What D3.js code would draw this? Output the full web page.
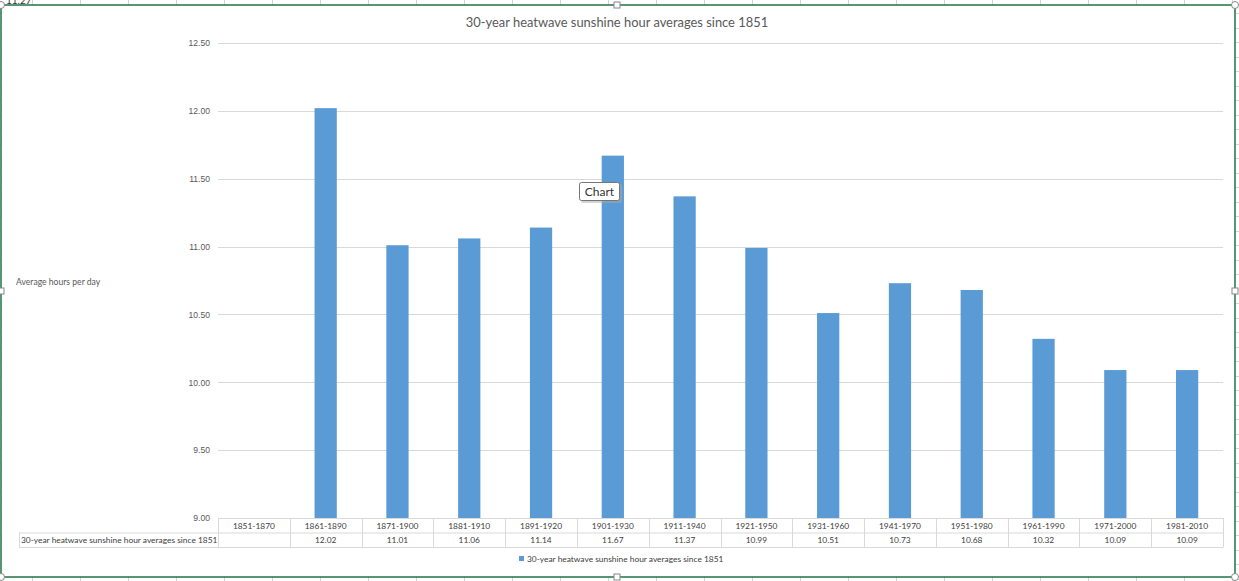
<!DOCTYPE html>
<html lang="en">
<head>
  <meta charset="UTF-8" />
  <title>30-year heatwave sunshine hour averages since 1851</title>
  <script src="https://d3js.org/d3.v7.min.js"></script>
  <style>
    body {
      margin: 0;
      background: white;
      font-family: Lato, "Open Sans", sans-serif;
    }

    svg {
      display: block;
    }

    .tick-label {
      font-size: 8.6px;
      fill: #595959;
    }

    .cell-text {
      font-size: 8.4px;
      fill: #404040;
    }
  </style>
</head>
<body>

  <svg width="1239" height="581"></svg>

  <script>
    // Data
    const periods = ["1851-1870", "1861-1890", "1871-1900", "1881-1910", "1891-1920", "1901-1930",
      "1911-1940", "1921-1950", "1931-1960", "1941-1970", "1951-1980", "1961-1990", "1971-2000", "1981-2010"];
    const averages = [null, 12.02, 11.01, 11.06, 11.14, 11.67, 11.37, 10.99, 10.51, 10.73, 10.68, 10.32, 10.09, 10.09];
    const yTicks = [9.00, 9.50, 10.00, 10.50, 11.00, 11.50, 12.00, 12.50];
    const seriesName = "30-year heatwave sunshine hour averages since 1851";

    const svg = d3.select("svg");
    const width = +svg.attr("width");
    const height = +svg.attr("height");

    const frame = { left: 1, top: 5, right: 1235, bottom: 577 };
    const plot = { left: 218, right: 1223, top: 43, bottom: 518 };
    const rowH = 14.5;

    // spreadsheet grid showing around the chart
    const grid = svg.append("g").attr("stroke", "#d4d4d4").attr("stroke-width", 1);
    d3.range(32, width, 48).forEach(x => {
      grid.append("line").attr("x1", x + 0.5).attr("x2", x + 0.5).attr("y1", 0).attr("y2", frame.top);
      grid.append("line").attr("x1", x + 0.5).attr("x2", x + 0.5).attr("y1", frame.bottom).attr("y2", height);
    });
    d3.range(13, height, 14.5).forEach(y => {
      grid.append("line").attr("x1", frame.right).attr("x2", width).attr("y1", Math.round(y) + 0.5).attr("y2", Math.round(y) + 0.5);
      grid.append("line").attr("x1", 0).attr("x2", frame.left).attr("y1", Math.round(y) + 0.5).attr("y2", Math.round(y) + 0.5);
    });
    svg.append("text")
      .attr("x", 6).attr("y", 4)
      .attr("font-size", 10).attr("fill", "#333")
      .text("11.27");

    // chart area with selection border
    svg.append("rect")
      .attr("x", frame.left).attr("y", frame.top)
      .attr("width", frame.right - frame.left).attr("height", frame.bottom - frame.top)
      .attr("fill", "white")
      .attr("stroke", "#217346").attr("stroke-width", 1.5);

    // Scales
    const x = d3.scaleBand()
      .domain(periods)
      .range([plot.left, plot.right]);

    const y = d3.scaleLinear()
      .domain([9, 12.5])
      .range([plot.bottom, plot.top]);

    // Gridlines
    svg.append("g")
      .selectAll("line")
      .data(yTicks)
      .join("line")
      .attr("x1", plot.left).attr("x2", plot.right)
      .attr("y1", d => Math.round(y(d)) + 0.5).attr("y2", d => Math.round(y(d)) + 0.5)
      .attr("stroke", "#d9d9d9");

    // Y axis labels
    const yAxis = d3.axisLeft(y).tickValues(yTicks).tickFormat(d3.format(".2f")).tickSize(0).tickPadding(8);
    const yAxisG = svg.append("g")
      .attr("transform", `translate(${plot.left}, 0)`)
      .call(yAxis);
    yAxisG.select(".domain").remove();
    yAxisG.selectAll("text").attr("class", "tick-label").attr("font-family", null).attr("font-size", null);

    svg.append("text")
      .attr("x", 16).attr("y", 285)
      .attr("class", "tick-label")
      .attr("fill", "#404040")
      .text("Average hours per day");

    // Bars
    const barW = x.bandwidth() * 0.31;
    svg.append("g")
      .selectAll("rect")
      .data(periods.map((p, i) => ({ period: p, value: averages[i] })).filter(d => d.value != null))
      .join("rect")
      .attr("x", d => x(d.period) + (x.bandwidth() - barW) / 2)
      .attr("y", d => y(d.value))
      .attr("width", barW)
      .attr("height", d => y(9) - y(d.value))
      .attr("fill", "#5b9bd5");

    // Data table
    const table = svg.append("g").attr("stroke", "#d9d9d9").attr("fill", "none");
    const tableTop = plot.bottom;
    const tableLeft = 19;
    table.append("line")
      .attr("x1", plot.left).attr("x2", plot.right)
      .attr("y1", tableTop + 0.5).attr("y2", tableTop + 0.5);
    table.append("line")
      .attr("x1", tableLeft).attr("x2", plot.right)
      .attr("y1", tableTop + rowH + 0.5).attr("y2", tableTop + rowH + 0.5);
    table.append("line")
      .attr("x1", tableLeft).attr("x2", plot.right)
      .attr("y1", tableTop + 2 * rowH + 0.5).attr("y2", tableTop + 2 * rowH + 0.5);
    table.append("line")
      .attr("x1", tableLeft + 0.5).attr("x2", tableLeft + 0.5)
      .attr("y1", tableTop + rowH).attr("y2", tableTop + 2 * rowH);
    table.selectAll(".col")
      .data(periods.concat(["end"]))
      .join("line")
      .attr("x1", (d, i) => Math.round(plot.left + i * x.step()) + 0.5)
      .attr("x2", (d, i) => Math.round(plot.left + i * x.step()) + 0.5)
      .attr("y1", tableTop).attr("y2", tableTop + 2 * rowH);

    svg.append("g")
      .selectAll("text")
      .data(periods)
      .join("text")
      .attr("class", "cell-text")
      .attr("x", d => x(d) + x.bandwidth() / 2)
      .attr("y", tableTop + 10.5)
      .attr("text-anchor", "middle")
      .text(d => d);

    svg.append("g")
      .selectAll("text")
      .data(averages)
      .join("text")
      .attr("class", "cell-text")
      .attr("x", (d, i) => x(periods[i]) + x.bandwidth() / 2)
      .attr("y", tableTop + rowH + 10.5)
      .attr("text-anchor", "middle")
      .text(d => d == null ? "" : d3.format(".2f")(d));

    svg.append("text")
      .attr("class", "cell-text")
      .attr("x", tableLeft + 2)
      .attr("y", tableTop + rowH + 10.5)
      .text(seriesName);

    // Title
    svg.append("text")
      .attr("x", 617).attr("y", 27)
      .attr("text-anchor", "middle")
      .attr("font-size", 12.9)
      .attr("fill", "#595959")
      .text(seriesName);

    // Legend
    const legend = svg.append("g").attr("transform", "translate(519, 556)");
    legend.append("rect")
      .attr("width", 5).attr("height", 5)
      .attr("fill", "#5b9bd5");
    legend.append("text")
      .attr("class", "cell-text")
      .attr("x", 8).attr("y", 6)
      .text(seriesName);

    // "Chart" hover tip
    const tip = svg.append("g").attr("transform", "translate(579, 182)");
    tip.append("rect")
      .attr("x", 2).attr("y", 2).attr("width", 41).attr("height", 19).attr("rx", 2)
      .attr("fill", "#aaa").attr("opacity", 0.5);
    tip.append("rect")
      .attr("x", 0.5).attr("y", 0.5).attr("width", 40).attr("height", 18).attr("rx", 2)
      .attr("fill", "white").attr("stroke", "#767676");
    tip.append("text")
      .attr("x", 20.5).attr("y", 13.5)
      .attr("text-anchor", "middle")
      .attr("font-size", 12).attr("fill", "#333")
      .text("Chart");

    // Selection handles
    const handles = svg.append("g").attr("fill", "white").attr("stroke", "#888");
    [[frame.left, frame.top], [frame.right, frame.top], [frame.left, frame.bottom], [frame.right, frame.bottom]]
      .forEach(([hx, hy]) => handles.append("circle").attr("cx", hx).attr("cy", hy).attr("r", 3.5));
    [[617, frame.top], [617, frame.bottom], [frame.left, 291], [frame.right, 291]]
      .forEach(([hx, hy]) => handles.append("rect").attr("x", hx - 3).attr("y", hy - 3).attr("width", 6).attr("height", 6));
  </script>
</body>
</html>
